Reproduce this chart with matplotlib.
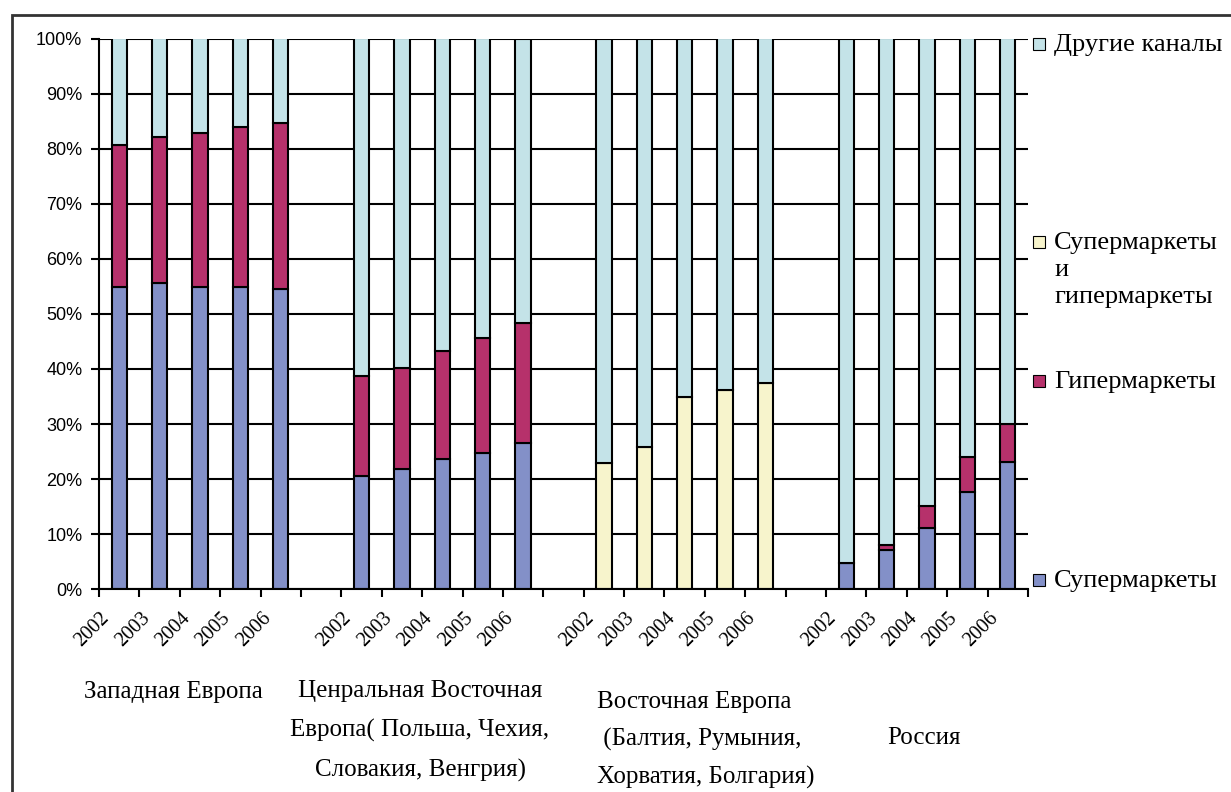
import numpy as np
import matplotlib
matplotlib.use("Agg")
import matplotlib.pyplot as plt
from matplotlib.patches import Rectangle
from matplotlib.transforms import blended_transform_factory

# data (percent shares)
years = ["2002", "2003", "2004", "2005", "2006"]
super_we = [54.8, 55.6, 54.8, 54.8, 54.5]
hyper_we = [25.9, 26.6, 28.1, 29.2, 30.2]
super_cee = [20.6, 21.8, 23.6, 24.7, 26.5]
hyper_cee = [18.2, 18.4, 19.7, 21.0, 21.8]
combined_ee = [22.9, 25.8, 34.9, 36.1, 37.4]
super_ru = [4.7, 7.1, 11.1, 17.7, 23.1]
hyper_ru = [0.0, 0.9, 4.1, 6.3, 7.0]

series_names = ["Супермаркеты", "Гипермаркеты", "Супермаркеты\nи\nгипермаркеты", "Другие каналы"]
colors = ["#8390C8", "#B6316B", "#F7F4CC", "#C4E3E8"]

# one row per group: super, hyper, combined
groups = [
    (super_we, hyper_we, [0] * 5),
    (super_cee, hyper_cee, [0] * 5),
    ([0] * 5, [0] * 5, combined_ee),
    (super_ru, hyper_ru, [0] * 5),
]
group_labels = [
    "Западная Европа",
    "Ценральная Восточная\nЕвропа( Польша, Чехия,\nСловакия, Венгрия)",
    "Восточная Европа\n (Балтия, Румыния,\nХорватия, Болгария)",
    "Россия",
]

serif = "Liberation Serif"
W, H = 1231, 792
fig = plt.figure(figsize=(W / 100, H / 100), dpi=100)
fig.patch.set_facecolor("white")

x0, x1, ytop, ybot = 99, 1028, 38.5, 589.3
ax = fig.add_axes([x0 / W, 1 - ybot / H, (x1 - x0) / W, (ybot - ytop) / H])

n_slots = 23
bw = 0.38
lw = 1.5
for g, (s, h, c) in enumerate(groups):
    xs = np.arange(5) + g * 6 + 0.5
    s = np.array(s, float)
    h = np.array(h, float)
    c = np.array(c, float)
    other = 100 - s - h - c
    if g != 2:
        ax.bar(xs, s, bw, color=colors[0], edgecolor="black", lw=lw, zorder=3)
        ax.bar(xs, h, bw, bottom=s, color=colors[1], edgecolor="black", lw=lw, zorder=3)
    else:
        ax.bar(xs, c, bw, color=colors[2], edgecolor="black", lw=lw, zorder=3)
    ax.bar(xs, other, bw, bottom=s + h + c, color=colors[3], edgecolor="black", lw=lw, zorder=3)

ax.set_xlim(0, n_slots)
ax.set_ylim(0, 100)
ax.set_yticks(np.arange(0, 101, 10))
ax.set_yticklabels([f"{v}%" for v in range(0, 101, 10)], family="Liberation Sans", fontsize=13)
ax.set_xticks(np.arange(0, n_slots + 1))
ax.set_xticklabels([])
ax.tick_params(axis="both", direction="out", length=6, width=lw, color="black")
ax.tick_params(axis="y", pad=6)
ax.yaxis.grid(True, color="black", lw=lw, zorder=0)
ax.set_axisbelow(True)
for side in ["top", "right"]:
    ax.spines[side].set_visible(False)
for side in ["left", "bottom"]:
    ax.spines[side].set_linewidth(lw)
    ax.spines[side].set_zorder(4)

# rotated year labels
tr = blended_transform_factory(ax.transData, ax.transAxes)
for g in range(4):
    for i, yr in enumerate(years):
        ax.text(g * 6 + i + 0.02, -0.036, yr, transform=tr, rotation=45,
                rotation_mode="anchor", ha="right", va="top",
                family=serif, fontsize=14.5)

# group captions under the axis
fig.text(173 / W, 1 - 692 / H, group_labels[0], family=serif, fontsize=18,
         ha="center", va="center")
fig.text(420 / W, 1 - 731 / H, group_labels[1], family=serif, fontsize=18,
         ha="center", va="center", linespacing=1.95)
fig.text(597 / W, 1 - 740 / H, group_labels[2], family=serif, fontsize=18,
         ha="left", va="center", linespacing=1.85)
fig.text(924 / W, 1 - 738 / H, group_labels[3], family=serif, fontsize=18,
         ha="center", va="center")

# legend on the right
legend_y = [580, 381, 242, 44]
for name, col, ly in zip(series_names, colors, legend_y):
    fig.patches.append(Rectangle((1033 / W, 1 - (ly + 6) / H), 12 / W, 12 / H,
                                 transform=fig.transFigure, facecolor=col,
                                 edgecolor="black", lw=0.8))
    fig.text(1054 / W, 1 - (ly - 10) / H, name, family=serif, fontsize=19,
             ha="left", va="top", linespacing=1.3)

# outer chart frame (cropped at right and bottom)
fig.patches.append(Rectangle((12 / W, -0.1), 1.2, 1 - 15 / H + 0.1,
                             transform=fig.transFigure, fill=False,
                             edgecolor="#333333", lw=2))

fig.savefig("out.png", dpi=100)
